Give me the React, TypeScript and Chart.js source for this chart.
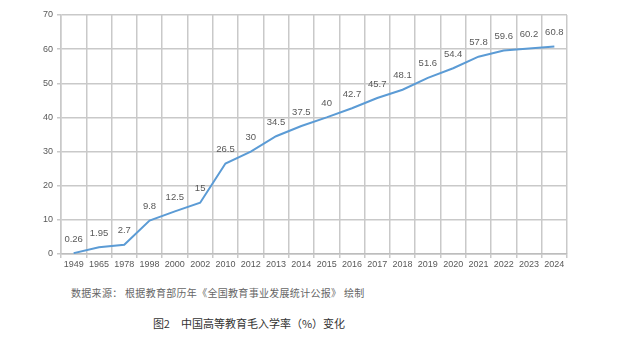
import React, { useEffect, useRef } from "react";
import { Chart, registerables } from "chart.js";

Chart.register(...registerables);

const categories = [
  "1949", "1965", "1978", "1998", "2000", "2002", "2010", "2012", "2013", "2014",
  "2015", "2016", "2017", "2018", "2019", "2020", "2021", "2022", "2023", "2024",
];
const enrollmentRate = [
  0.26, 1.95, 2.7, 9.8, 12.5, 15, 26.5, 30, 34.5, 37.5,
  40, 42.7, 45.7, 48.1, 51.6, 54.4, 57.8, 59.6, 60.2, 60.8,
];
const yTicks = { min: 0, max: 70, step: 10 };
const sourceText = "数据来源： 根据教育部历年《全国教育事业发展统计公报》 绘制";
const titleText = "图2　中国高等教育毛入学率（%）变化";

const CANVAS_W = 643;
const CANVAS_H = 280;
const GRID = "#c9c9c9";

const labelPlugin = {
  id: "pointLabels",
  afterDatasetsDraw(chart: any) {
    const ctx = chart.ctx;
    const meta = chart.getDatasetMeta(0);
    ctx.save();
    ctx.font = '9.5px "Liberation Sans", Arial, sans-serif';
    ctx.fillStyle = "#595959";
    ctx.textAlign = "center";
    ctx.textBaseline = "middle";
    meta.data.forEach((el: any, i: number) => {
      ctx.fillText(String(enrollmentRate[i]), el.x, el.y - 14);
    });
    ctx.restore();
  },
};

export default function App() {
  const ref = useRef<HTMLCanvasElement | null>(null);
  useEffect(() => {
    if (!ref.current) return;
    const chart = new Chart(ref.current, {
      type: "line",
      data: {
        labels: categories,
        datasets: [
          {
            data: enrollmentRate,
            borderColor: "#5b9bd5",
            borderWidth: 2,
            pointRadius: 0,
            tension: 0,
            fill: false,
          },
        ],
      },
      options: {
        responsive: false,
        animation: false,
        layout: { padding: { top: 15, right: 76, bottom: 0, left: 0 } },
        plugins: { legend: { display: false }, tooltip: { enabled: false }, title: { display: false } },
        scales: {
          x: {
            type: "category",
            offset: true,
            grid: { display: true, offset: true, color: GRID, lineWidth: 1.5, tickLength: 4, drawTicks: true, drawOnChartArea: true },
            border: { display: true, color: "#bdbdbd", width: 1.5 },
            ticks: {
              color: "#595959",
              font: { family: '"Liberation Sans", Arial, sans-serif', size: 9 },
              padding: 1,
              maxRotation: 0,
              autoSkip: false,
            },
            afterFit: (s: any) => { s.height = CANVAS_H - 254; },
          },
          y: {
            type: "linear",
            min: yTicks.min,
            max: yTicks.max,
            ticks: {
              stepSize: yTicks.step,
              color: "#595959",
              font: { family: '"Liberation Sans", Arial, sans-serif', size: 9 },
              padding: 4,
            },
            grid: { display: true, color: GRID, lineWidth: 1.5, tickLength: 4, drawTicks: true, drawOnChartArea: true },
            border: { display: true, color: GRID, width: 1.5 },
            afterFit: (s: any) => { s.width = 61; },
          },
        },
      },
      plugins: [labelPlugin],
    });
    return () => chart.destroy();
  }, []);

  return (
    <div style={{ position: "absolute", left: 0, top: 0, width: 643, height: 354, background: "#fff" }}>
      <canvas ref={ref} width={CANVAS_W} height={CANVAS_H} style={{ display: "block" }} />
      <div
        style={{
          position: "absolute", left: 71, top: 286, whiteSpace: "nowrap",
          fontFamily: '"Noto Sans CJK SC", sans-serif', fontSize: 10, letterSpacing: 0.3,
          color: "#666", lineHeight: "14px",
        }}
      >
        {sourceText}
      </div>
      <div
        style={{
          position: "absolute", left: 0, width: 498, top: 315, textAlign: "center", whiteSpace: "nowrap",
          fontFamily: '"Noto Sans CJK SC", sans-serif', fontSize: 11, color: "#333", lineHeight: "16px",
        }}
      >
        {titleText}
      </div>
    </div>
  );
}
